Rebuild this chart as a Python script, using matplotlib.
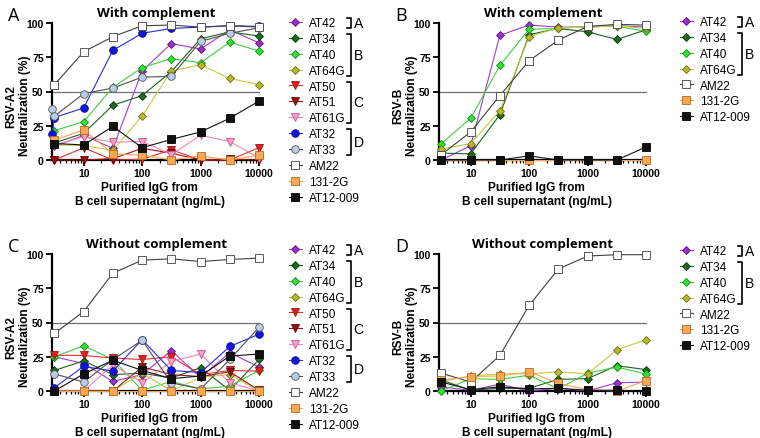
import numpy as np
import matplotlib.pyplot as plt
from matplotlib.lines import Line2D
from matplotlib.ticker import FixedLocator, LogLocator, FuncFormatter, NullFormatter

plt.rcParams['font.family'] = ['Liberation Sans', 'DejaVu Sans']

# antibody concentration (ng/mL), half-log dilution series
conc = [3.16, 10, 31.6, 100, 316, 1000, 3162, 10000]
# AT32 / AT33 in panel A have one extra point at the left edge
conc_extra = [2.9] + conc

# panel A: RSV-A2, with complement (% neutralization)
a_vals = {
    'AT42': [10, 18, 8.5, 65, 85, 81, 95, 85.5],
    'AT34': [12.5, 19.5, 40, 47, 64.5, 88.5, 93.5, 90.5],
    'AT40': [21.5, 28, 53, 67.5, 74, 71, 86, 79.5],
    'AT64G': [11, 10.5, 7, 32, 65, 69.5, 59.5, 55],
    'AT50': [0, 9, 0, 0.5, 7.5, 0, 0, 9],
    'AT51': [0, 0, 1, 8.5, 5, 0, 0.5, 0],
    'AT61G': [11, 17, 13, 13.5, 4, 18, 13.5, 1.5],
    'AT32': [19, 31, 38, 80, 92.5, 96, 97, 98, 97.5],
    'AT33': [37, 32, 48.5, 52.5, 60.5, 61, 86.5, 92.5, 96.5],
    'AM22': [55, 79, 90, 98, 98.5, 97, 98, 97],
    '131-2G': [14.5, 22, 4.5, 3.5, 0, 3, 0, 3.5],
    'AT12-009': [12, 11, 24.5, 9, 15, 20.5, 30.5, 43],
}

# panel B: RSV-B, with complement
b_vals = {
    'AT42': [0, 10.5, 91, 98.5, 97, 97, 98, 97],
    'AT34': [5, 4.5, 33, 91.5, 96, 93.5, 88, 95],
    'AT40': [12, 30.5, 69, 95.5, 96, 97.5, 97.5, 94],
    'AT64G': [8, 12, 36, 90, 96.5, 97, 98, 96],
    'AM22': [4, 20.5, 47, 72.5, 87.5, 97.5, 99, 98.5],
    '131-2G': [0, 0, 0, 0, 0, 0, 0, 0],
    'AT12-009': [0, 0, 0, 3, 0, 0, 0, 9.5],
}

# panel C: RSV-A2, without complement
c_vals = {
    'AT42': [25, 20, 7, 12, 29.5, 10, 28, 17.5],
    'AT34': [15, 22, 12, 13, 9.5, 17, 0.5, 23],
    'AT40': [25, 33, 23, 0.5, 7, 1.5, 3.5, 15],
    'AT64G': [0, 0, 0, 13, 0, 10, 12, 0],
    'AT50': [26, 26, 24, 23, 25, 12, 15, 14.5],
    'AT51': [0, 0, 0, 17.5, 12, 10.5, 14, 0.5],
    'AT61G': [0, 0, 19, 6, 21.5, 27, 6, 0],
    'AT32': [2.5, 18, 14.5, 37.5, 15, 13.5, 32.5, 41.5],
    'AT33': [12.5, 6.5, 23, 37, 6, 1.5, 23, 46.5],
    'AM22': [42, 58, 86, 95.5, 96.5, 94.5, 96, 97],
    '131-2G': [0, 0, 0, 0, 0, 0, 0, 0],
    'AT12-009': [0, 12.5, 22.5, 15, 9, 11, 25.5, 27],
}

# panel D: RSV-B, without complement
d_vals = {
    'AT42': [3, 0.5, 5, 0, 2, 0, 6, 6.5],
    'AT34': [8, 0.5, 2, 2, 8.5, 9, 18.5, 15.6],
    'AT40': [0, 9, 8.5, 11.5, 1.5, 13, 17.5, 12.4],
    'AT64G': [7, 11, 12.5, 12.5, 14, 12.5, 30, 37.5],
    'AM22': [13, 6.5, 26, 62.5, 89, 98.5, 99.5, 99.5],
    '131-2G': [8, 10.5, 11, 14, 5.5, 1, 0, 7.5],
    'AT12-009': [6.5, 1, 3, 1.5, 2, 0.5, 0.5, 0],
}

# line colour, marker, face, edge, size
style = {
    'AT42': ('#a03bd6', 'D', '#9a2fc9', '#5a1a80', 4.2),
    'AT34': ('#1f5f1f', 'D', '#1d6b1d', '#0d3a0d', 4.2),
    'AT40': ('#3fcf3f', 'D', '#33e033', '#1a8a1a', 4.2),
    'AT64G': ('#c8c840', 'D', '#b8b828', '#6e6e10', 4.2),
    'AT50': ('#e23030', 'v', '#e02020', '#a01010', 5.5),
    'AT51': ('#9a1515', 'v', '#9a1010', '#5a0808', 5.5),
    'AT61G': ('#f088b8', 'v', '#f5a0c8', '#d0508a', 5.5),
    'AT32': ('#2a2ae0', 'o', '#1515d8', '#0a0a90', 5.5),
    'AT33': ('#505050', 'o', '#b8cde8', '#555555', 5.5),
    'AM22': ('#404040', 's', 'white', '#404040', 5.5),
    '131-2G': ('#f5a550', 's', '#f7a855', '#b06a20', 5.5),
    'AT12-009': ('#111111', 's', '#111111', '#000000', 5.2),
}

W, H = 760, 439
fig = plt.figure(figsize=(W / 100, H / 100), dpi=100)


def add_panel(left, top, vals, title, ylab, letter):
    ax = fig.add_axes([left / W, 1 - (top + 137) / H, 208 / W, 137 / H])
    ax.axhline(50, color='#707070', lw=0.9, zorder=1)
    handles = []
    for name, ys in vals.items():
        col, mk, fc, ec, ms = style[name]
        xs = conc_extra if len(ys) == len(conc_extra) else conc
        ln, = ax.plot(xs, ys, color=col, lw=0.8, marker=mk, mfc=fc, mec=ec,
                      mew=0.6, ms=ms, clip_on=False, zorder=3, label=name)
        handles.append(ln)
    ax.set_xscale('log')
    ax.set_xlim(2.87, 10400)
    ax.set_ylim(0, 100)
    ax.xaxis.set_major_locator(FixedLocator([10, 100, 1000, 10000]))
    ax.xaxis.set_major_formatter(FuncFormatter(lambda v, p: f'{v:g}'))
    ax.xaxis.set_minor_locator(LogLocator(base=10, subs=np.arange(2, 10), numticks=20))
    ax.xaxis.set_minor_formatter(NullFormatter())
    ax.set_yticks([0, 25, 50, 75, 100])
    for s in ['top', 'right']:
        ax.spines[s].set_visible(False)
    for s in ['left', 'bottom']:
        ax.spines[s].set_linewidth(1.6)
        ax.spines[s].set_zorder(2)
    ax.tick_params(which='major', length=4, width=1.3, labelsize=7.5, pad=2)
    ax.tick_params(which='minor', length=2.5, width=0.9)
    for t in ax.get_xticklabels() + ax.get_yticklabels():
        t.set_fontweight('bold')
    ax.set_title(title, fontsize=9.5, fontweight='bold', family='Open Sans', pad=5)
    ax.set_ylabel(ylab, fontsize=8.6, fontweight='bold', linespacing=1.2)
    ax.yaxis.set_label_coords(-0.162, 0.4)
    ax.yaxis.label.set_va('center')
    ax.set_xlabel('Purified IgG from\nB cell supernatant (ng/mL)', fontsize=8.6,
                  fontweight='bold', linespacing=1.15)
    ax.xaxis.set_label_coords(0.47, -0.155)
    ax.xaxis.label.set_va('top')
    fig.text((left - 44) / W, 1 - (top - 8) / H, letter, fontsize=13,
             family='Open Sans', va='center', ha='left')
    return ax, handles


def add_legend(ax, handles, x, y):
    leg = ax.legend(handles, [h.get_label() for h in handles], loc='upper left',
                    bbox_to_anchor=(x / W, 1 - y / H), bbox_transform=fig.transFigure,
                    frameon=False, fontsize=8.5, handlelength=1.1, handletextpad=0.6,
                    labelspacing=0.33, borderpad=0, borderaxespad=0)
    return leg


panels = [
    (52, 24, a_vals, 'With complement', 'RSV-A2\nNeutralization (%)', 'A', 289, 18),
    (439, 24, b_vals, 'With complement', 'RSV-B\nNeutralization (%)', 'B', 680, 17),
    (52, 255, c_vals, 'Without complement', 'RSV-A2\nNeutralization (%)', 'C', 289, 245),
    (439, 255, d_vals, 'Without complement', 'RSV-B\nNeutralization (%)', 'D', 680, 246),
]

legends = []
for left, top, vals, title, ylab, letter, lx, ly in panels:
    ax, handles = add_panel(left, top, vals, title, ylab, letter)
    legends.append((add_legend(ax, handles, lx, ly), list(vals.keys())))

# group brackets next to the legend entries
groups = [('A', ['AT42']), ('B', ['AT34', 'AT40', 'AT64G']),
          ('C', ['AT50', 'AT51', 'AT61G']), ('D', ['AT32', 'AT33'])]
fig.canvas.draw()
r = fig.canvas.get_renderer()
inv = fig.transFigure.inverted()
for leg, names in legends:
    boxes = {n: t.get_window_extent(r) for n, t in zip(names, leg.get_texts())}
    used = [g for g in groups if g[1][0] in boxes]
    xb = max(boxes[n].x1 for g in used for n in g[1]) + 5
    for letter, members in used:
        top = boxes[members[0]].y1 - 1
        bot = boxes[members[-1]].y0 + 1
        pts = inv.transform([(xb - 4, top), (xb, top), (xb, bot), (xb - 4, bot)])
        fig.add_artist(Line2D(pts[:, 0], pts[:, 1], transform=fig.transFigure,
                              color='black', lw=1.2))
        tx, ty = inv.transform((xb + 3, (top + bot) / 2))
        fig.text(tx, ty, letter, fontsize=10, va='center', ha='left')

fig.savefig('out.png', dpi=100)
